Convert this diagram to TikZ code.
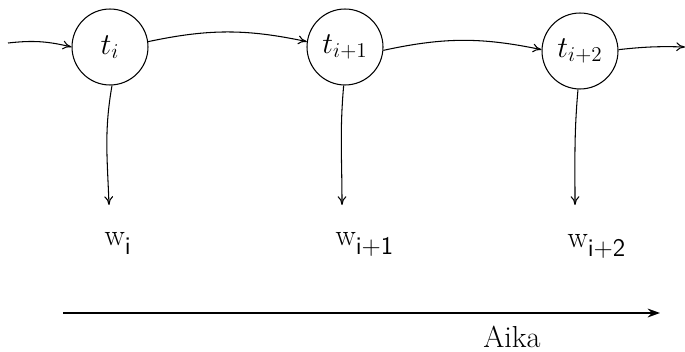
\documentclass[tikz,border=0pt]{standalone}
\usepackage{amsmath}
\usetikzlibrary{arrows.meta}
\newcommand{\wlabel}[1]{{\LARGE w}\raisebox{-1.2ex}{\Large\sffamily #1}}

\begin{document}
\begin{tikzpicture}[x=0.02cm, y=-0.02cm, line width=0.6pt,
    state/.style={draw, circle, minimum size=1.52cm, inner sep=0pt, font=\LARGE},
    obs/.style={anchor=base west, inner sep=0pt},
    link/.style={-{To[length=5pt, width=5pt]}}]
  \useasboundingbox (0,0) rectangle (685,351);
  % Hidden states
  \node[state] (t1) at (110,47) {$t_i$};
  \node[state] (t2) at (345,47) {$t_{i+1}$};
  \node[state] (t3) at (580,51) {$t_{i+2}$};
  % Observed words
  \node[obs] (w1) at (104,245) {\wlabel{i}};
  \node[obs] (w2) at (335,245) {\wlabel{i+1}};
  \node[obs] (w3) at (567,247) {\wlabel{i+2}};
  % Free ends
  \coordinate (start) at (8,43);
  \coordinate (stop) at (685,47);
  \coordinate (d1) at (109,205);
  \coordinate (d2) at (342,205);
  \coordinate (d3) at (575,205);
  % Transitions
  \draw[link] (start) to[bend left=10] (t1.west);
  \draw[link] (t1.8) to[bend left=12] (t2.172);
  \draw[link] (t2.-5) to[bend left=12] (t3.178);
  \draw[link] (t3.2) to[bend left=4] (stop);
  % Emissions
  \draw[link] (t1.-87) to[out=-100, in=92] (d1);
  \draw[link] (t2.-92) to[out=-95, in=90] (d2);
  \draw[link] (t3.-93) to[out=-95, in=90] (d3);
  % Time axis
  \coordinate (axisL) at (63,313);
  \coordinate (axisR) at (660,313);
  \draw[-{Stealth[length=7pt, width=5pt]}, line width=1.1pt] (axisL) -- (axisR);
  \node[font=\LARGE] (time) at (512,337) {Aika};
\end{tikzpicture}
\end{document}
